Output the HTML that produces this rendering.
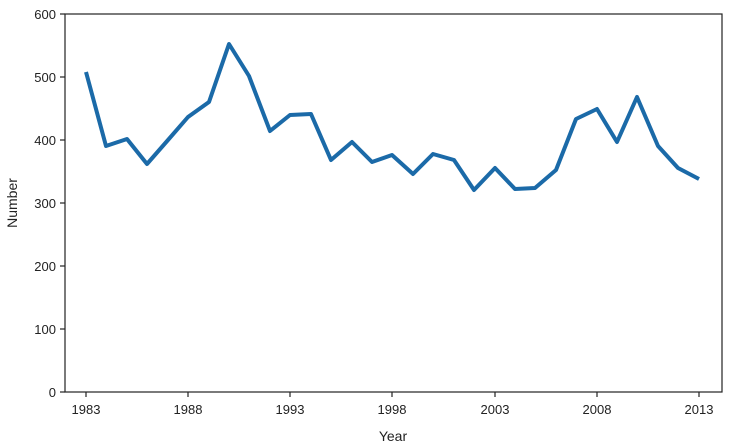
<!DOCTYPE html>
<html><head><meta charset="utf-8"><style>body{margin:0;background:#fff}svg{display:block}text{font-family:"Liberation Sans",sans-serif;fill:#222}</style></head><body>
<svg width="730" height="447" viewBox="0 0 730 447">
<rect x="65" y="14" width="657" height="378" fill="none" stroke="#222" stroke-width="1.2"/>
<g stroke="#222" stroke-width="1.2">
<line x1="60" y1="392" x2="65" y2="392"/><line x1="60" y1="329" x2="65" y2="329"/><line x1="60" y1="266" x2="65" y2="266"/><line x1="60" y1="203" x2="65" y2="203"/><line x1="60" y1="140" x2="65" y2="140"/><line x1="60" y1="77" x2="65" y2="77"/><line x1="60" y1="14" x2="65" y2="14"/>
<line x1="86" y1="392" x2="86" y2="397"/><line x1="188" y1="392" x2="188" y2="397"/><line x1="290" y1="392" x2="290" y2="397"/><line x1="392" y1="392" x2="392" y2="397"/><line x1="495" y1="392" x2="495" y2="397"/><line x1="597" y1="392" x2="597" y2="397"/><line x1="699" y1="392" x2="699" y2="397"/>
</g>
<g font-size="13" text-anchor="end">
<text x="56" y="397">0</text><text x="56" y="334">100</text><text x="56" y="271">200</text><text x="56" y="208">300</text><text x="56" y="145">400</text><text x="56" y="82">500</text><text x="56" y="19">600</text>
</g>
<g font-size="13" text-anchor="middle">
<text x="86" y="414">1983</text><text x="188" y="414">1988</text><text x="290" y="414">1993</text><text x="392" y="414">1998</text><text x="495" y="414">2003</text><text x="597" y="414">2008</text><text x="699" y="414">2013</text>
<text x="393" y="441" font-size="14">Year</text>
<text transform="translate(17,203) rotate(-90)" font-size="14">Number</text>
</g>
<polyline fill="none" stroke="#1b6aa8" stroke-width="4" stroke-linejoin="round" points="86,72 106,146 127,139 147,164 168,140 188,117 209,102 229,44 249,76 270,131 290,115 311,114 331,160 352,142 372,162 392,155 413,174 433,154 454,160 474,190 495,168 515,189 535,188 556,170 576,119 597,109 617,142 637,97 658,146 678,168 699,179"/>
</svg>
</body></html>
